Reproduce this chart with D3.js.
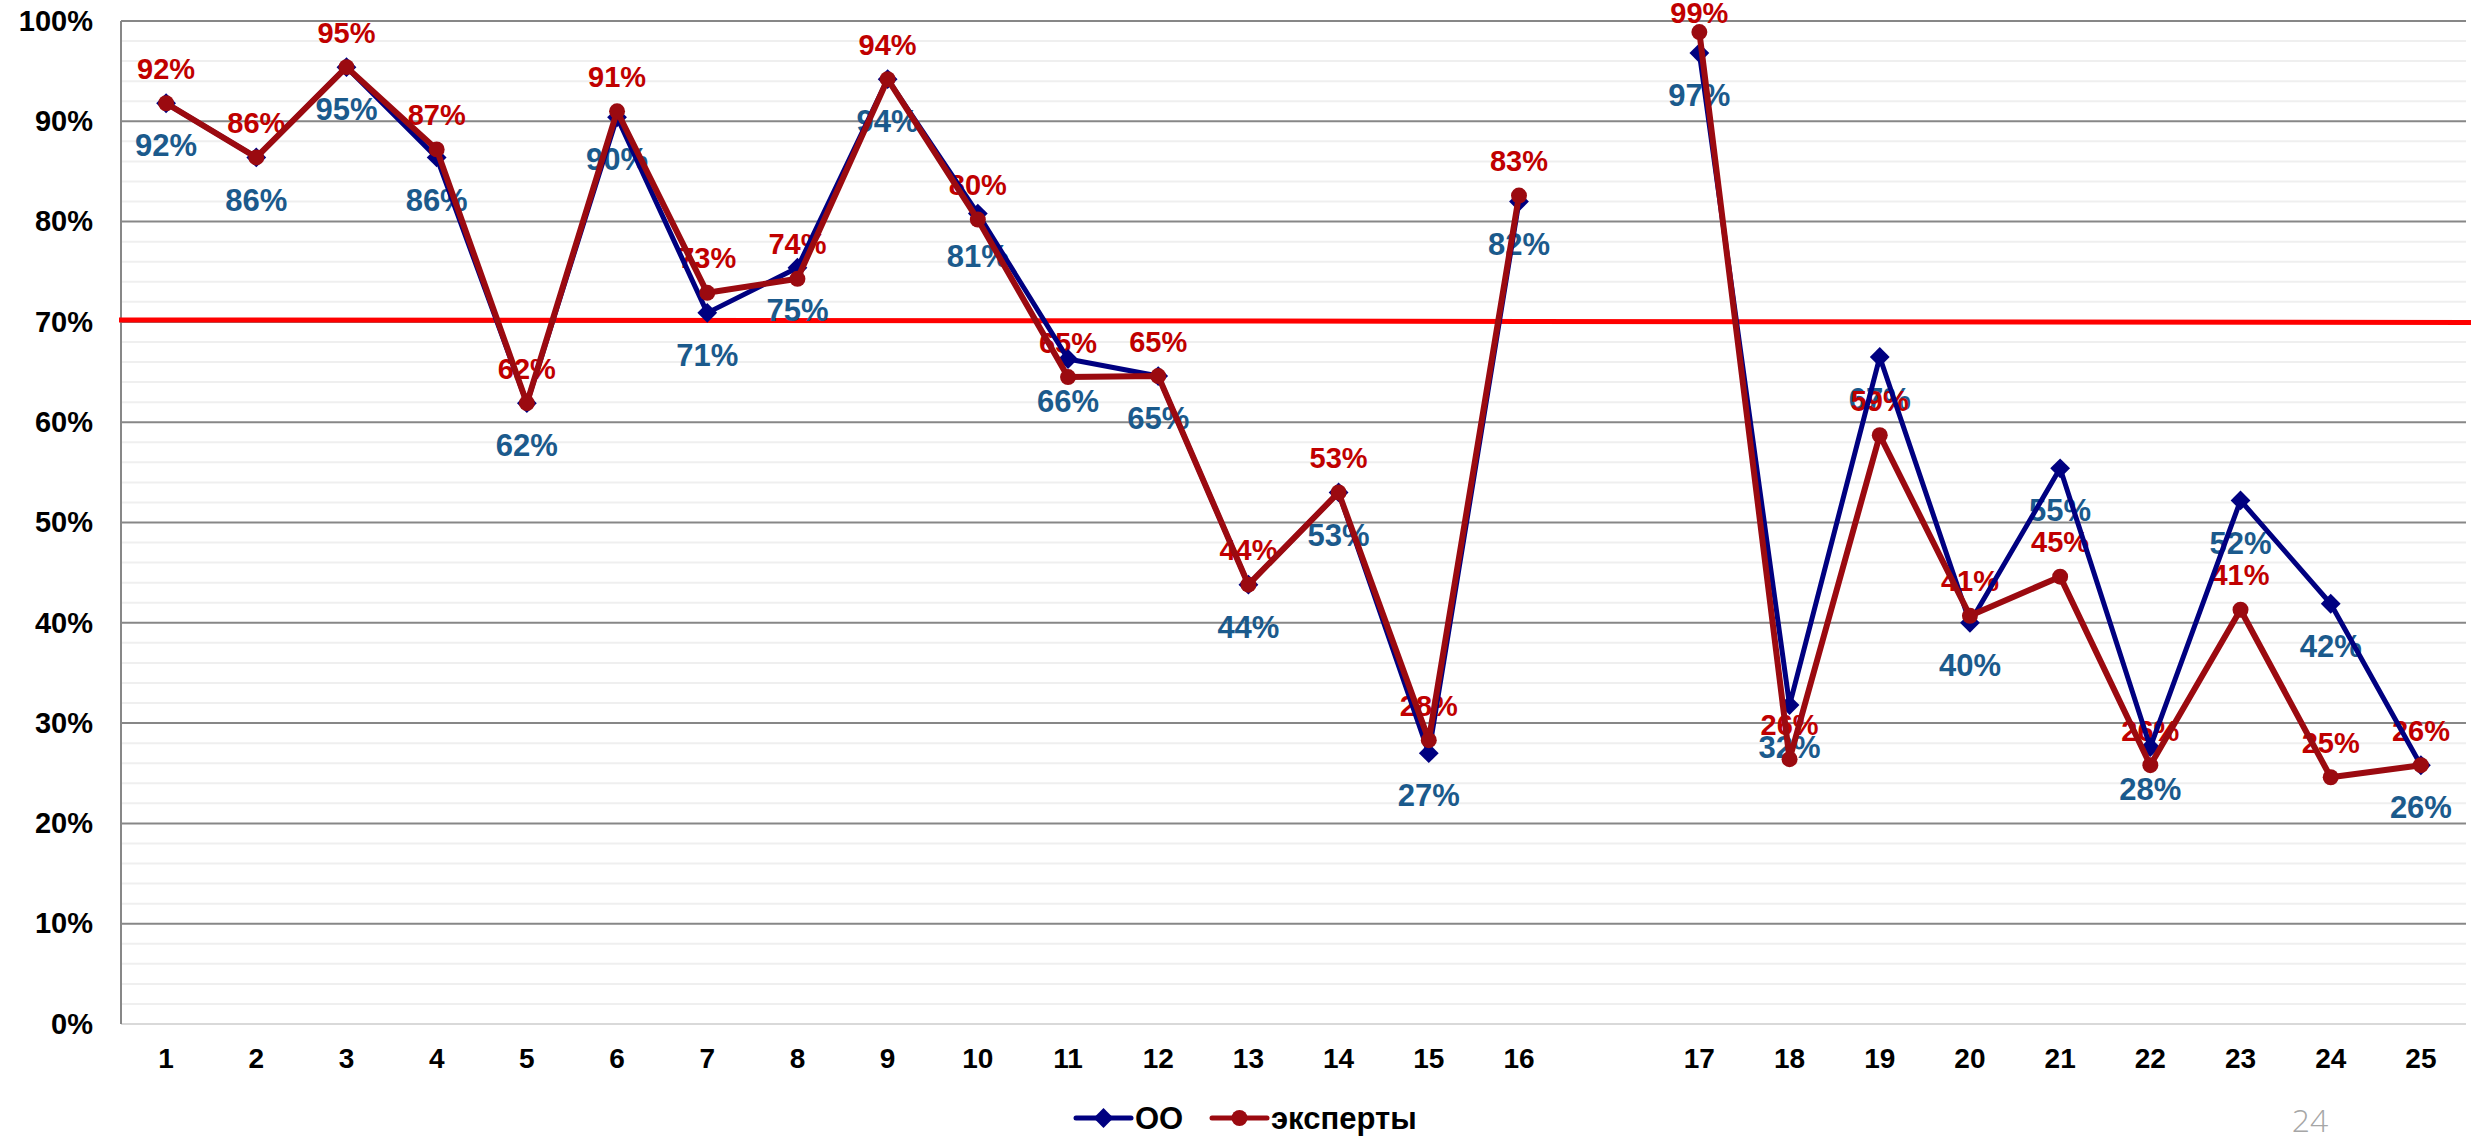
<!DOCTYPE html>
<html>
<head>
<meta charset="utf-8">
<script src="https://cdn.jsdelivr.net/npm/d3@7"></script>
<style>
  body { margin: 0; background: #fff; }
  svg text { font-family: "Liberation Sans", Arial, sans-serif; font-weight: bold; }
</style>
</head>
<body>
<div id="chart"></div>
<script>
// categories (empty slot between 16 and 17)
const categories = ["1","2","3","4","5","6","7","8","9","10","11","12","13","14","15","16","",
                    "17","18","19","20","21","22","23","24","25"];
// series values (null = gap)
const ooValues = [0.918, 0.864, 0.954, 0.864, 0.619, 0.904, 0.709, 0.754, 0.942, 0.808, 0.663, 0.646,
                  0.438, 0.530, 0.270, 0.820, null,
                  0.968, 0.318, 0.665, 0.400, 0.554, 0.276, 0.522, 0.419, 0.258];
const expertValues = [0.918, 0.864, 0.954, 0.872, 0.619, 0.910, 0.729, 0.743, 0.942, 0.802, 0.645, 0.646,
                      0.438, 0.530, 0.283, 0.826, null,
                      0.989, 0.264, 0.587, 0.407, 0.446, 0.258, 0.413, 0.246, 0.258];
const yTicks = [0, 0.1, 0.2, 0.3, 0.4, 0.5, 0.6, 0.7, 0.8, 0.9, 1.0];
const targetLine = [0.702, 0.6995];   // 70% threshold (start, end)
const seriesNames = ["ОО", "эксперты"];
const pageNumber = "24";

const W = 2483, H = 1139;
const m = { top: 21, right: 17, bottom: 115, left: 121 };

const svg = d3.select("#chart").append("svg")
  .attr("width", W).attr("height", H);

const x = d3.scaleBand()
  .domain(d3.range(categories.length))
  .range([m.left, W - m.right]);

const y = d3.scaleLinear()
  .domain([0, 1])
  .range([H - m.bottom, m.top]);

const cx = i => x(i) + x.bandwidth() / 2;

// minor grid (every 2%)
svg.append("g")
  .selectAll("line")
  .data(d3.range(0.02, 1.001, 0.02).filter(v => Math.round(v * 100) % 10 !== 0))
  .join("line")
    .attr("x1", m.left).attr("x2", W - m.right)
    .attr("y1", d => y(d)).attr("y2", d => y(d))
    .attr("stroke", "#efefef").attr("stroke-width", 2);

// major grid
svg.append("g")
  .selectAll("line")
  .data(yTicks.filter(d => d > 0))
  .join("line")
    .attr("x1", m.left).attr("x2", W - m.right)
    .attr("y1", d => y(d)).attr("y2", d => y(d))
    .attr("stroke", "#878787").attr("stroke-width", 2);

// baseline + left axis line
svg.append("line")
  .attr("x1", m.left).attr("x2", W - m.right)
  .attr("y1", y(0)).attr("y2", y(0))
  .attr("stroke", "#d9d9d9").attr("stroke-width", 2);
svg.append("line")
  .attr("x1", m.left).attr("x2", m.left)
  .attr("y1", y(1)).attr("y2", y(0))
  .attr("stroke", "#878787").attr("stroke-width", 2);

// y axis labels
const yAxis = svg.append("g")
  .attr("transform", `translate(${m.left},0)`)
  .call(d3.axisLeft(y).tickValues(yTicks).tickFormat(d3.format(".0%")).tickSize(0).tickPadding(28));
yAxis.select(".domain").remove();
yAxis.selectAll("text").attr("font-size", 29).attr("fill", "#000");

// x axis labels
const xAxis = svg.append("g")
  .attr("transform", `translate(0,${y(0)})`)
  .call(d3.axisBottom(x).tickFormat(i => categories[i]).tickSize(0).tickPadding(24));
xAxis.select(".domain").remove();
xAxis.selectAll("text").attr("font-size", 28).attr("fill", "#000");

// 70% target line
svg.append("line")
  .attr("x1", m.left - 2).attr("x2", W - m.right + 5)
  .attr("y1", y(targetLine[0])).attr("y2", y(targetLine[1]))
  .attr("stroke", "#ff0000").attr("stroke-width", 5);

const fmt = d3.format(".0%");
const idx = d3.range(categories.length);

// data labels
svg.append("g")
  .selectAll("text")
  .data(idx.filter(i => ooValues[i] != null))
  .join("text")
    .attr("x", i => cx(i))
    .attr("y", i => y(ooValues[i]) + 42)
    .attr("dy", "0.36em")
    .attr("text-anchor", "middle")
    .attr("font-size", 31)
    .attr("fill", "#1b5a8c")
    .text(i => fmt(ooValues[i]));

svg.append("g")
  .selectAll("text")
  .data(idx.filter(i => expertValues[i] != null))
  .join("text")
    .attr("x", i => cx(i))
    .attr("y", i => Math.max(y(expertValues[i]) - 35, 13))
    .attr("dy", "0.36em")
    .attr("text-anchor", "middle")
    .attr("font-size", 29)
    .attr("fill", "#c00000")
    .text(i => fmt(expertValues[i]));

// series lines
function drawSeries(values, color, width, marker) {
  const line = d3.line()
    .defined(i => values[i] != null)
    .x(i => cx(i))
    .y(i => y(values[i]));
  svg.append("path")
    .datum(idx)
    .attr("fill", "none")
    .attr("stroke", color)
    .attr("stroke-width", width)
    .attr("stroke-linejoin", "round")
    .attr("d", line);
  svg.append("g")
    .selectAll("path")
    .data(idx.filter(i => values[i] != null))
    .join("path")
      .attr("transform", i => `translate(${cx(i)},${y(values[i])})`)
      .attr("d", marker)
      .attr("fill", color);
}

const diamond = d3.symbol(d3.symbolDiamond2, 250)();
const circle = d3.symbol(d3.symbolCircle, 200)();

drawSeries(ooValues, "#000080", 5, diamond);
drawSeries(expertValues, "#9b0a10", 6, circle);

// legend
const legendItems = [
  { name: seriesNames[0], color: "#000080", marker: diamond, x: 1076 },
  { name: seriesNames[1], color: "#9b0a10", marker: circle, x: 1212 }
];
const lg = svg.append("g").attr("transform", "translate(0,1118)");
const li = lg.selectAll("g").data(legendItems).join("g")
  .attr("transform", d => `translate(${d.x},0)`);
li.append("line")
  .attr("x1", 0).attr("x2", 55)
  .attr("stroke", d => d.color).attr("stroke-width", 5).attr("stroke-linecap", "round");
li.append("path")
  .attr("transform", "translate(27.5,0)")
  .attr("d", d => d.marker)
  .attr("fill", d => d.color);
li.append("text")
  .attr("x", 59)
  .attr("dy", "0.36em")
  .attr("font-size", 31)
  .attr("fill", "#000")
  .text(d => d.name);

// page number
svg.append("text")
  .attr("x", 2310).attr("y", 1120)
  .attr("dy", "0.36em")
  .attr("text-anchor", "middle")
  .attr("font-size", 32)
  .style("font-family", "'Open Sans', 'Noto Sans', sans-serif")
  .style("font-weight", 300)
  .attr("fill", "#a6a6a6")
  .text(pageNumber);
</script>
</body>
</html>
